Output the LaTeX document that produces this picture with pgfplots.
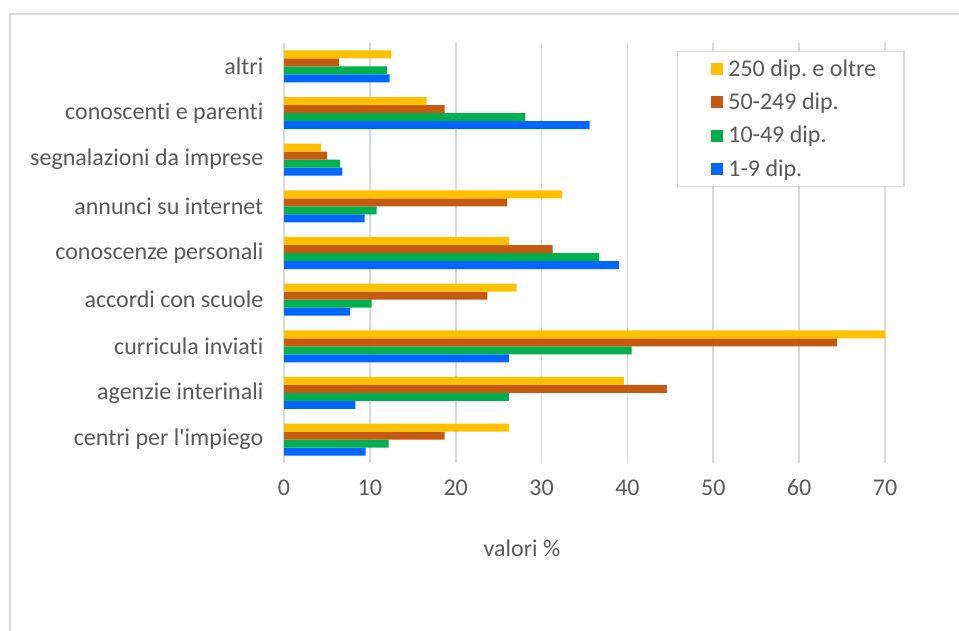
\documentclass[border=0pt]{standalone}
\usepackage{pgfplots}
\pgfplotsset{compat=1.18}
\usepackage{pgfplotstable}
\usepackage{fontspec}
\setmainfont{Carlito}[Ligatures={TeXOff,NoCommon}]
\frenchspacing
\definecolor{cY}{HTML}{FFC000}
\definecolor{cO}{HTML}{C55A11}
\definecolor{cG}{HTML}{00B050}
\definecolor{cB}{HTML}{0066FF}
\definecolor{txt}{HTML}{595959}
\definecolor{grd}{HTML}{D9D9D9}
\pgfplotstableread{
y  a    b    c    d
0  9.5  12.2 18.7 26.2
1  8.3  26.2 44.6 39.6
2  26.2 40.5 64.4 70.0
3  7.7  10.2 23.7 27.1
4  39.0 36.7 31.3 26.2
5  9.4  10.8 26.0 32.4
6  6.8  6.5  5.0  4.3
7  35.6 28.1 18.7 16.6
8  12.3 12.0 6.4  12.5
}\datatable
\begin{document}
\begin{tikzpicture}
\useasboundingbox (0,0) rectangle (719.25pt,473.25pt);
\draw[grd, line width=1pt] (7.5pt,0) -- (7.5pt,462.75pt) -- (719.25pt,462.75pt);
\begin{axis}[
  at={(213pt,126pt)}, anchor=south west,
  scale only axis, width=450.75pt, height=315pt,
  xbar, bar width=6pt,
  xmin=0, xmax=70, ymin=-0.5, ymax=8.5,
  xtick={0,10,...,70},
  ytick={0,...,8},
  yticklabels={centri per l'impiego, agenzie interinali, curricula inviati, accordi con scuole, conoscenze personali, annunci su internet, segnalazioni da imprese, conoscenti e parenti, altri},
  xmajorgrids, major grid style={grd, line width=1.2pt},
  axis x line*=bottom,
  x axis line style={draw=none},
  axis y line*=left,
  y axis line style={grd, line width=1.2pt, -},
  major tick length=0pt,
  tick label style={font=\fontsize{18}{21}\selectfont, text=txt},
  /pgf/number format/assume math mode=true,
  xticklabel style={yshift=-9pt},
  yticklabel style={xshift=-12pt},
  xlabel={valori \%},
  xlabel style={font=\fontsize{18}{21}\selectfont, text=txt, at={(axis description cs:0.396,-0.202)}, anchor=center},
  reverse legend,
  legend cell align=left,
  legend style={at={(axis description cs:0.654,0.981)}, anchor=north west,
    draw=grd, line width=1pt, font=\fontsize{18}{21}\selectfont, text=txt,
    inner xsep=19pt, inner ysep=4pt, row sep=7pt,
    nodes={inner sep=2pt}},
  legend image code/.code={\path (0pt,0pt) (17pt,0pt); \fill[#1] (6pt,-4.5pt) rectangle (15pt,4.5pt);},
]
\addplot[fill=cB, draw=none, bar shift=-9pt] table[x=a,y=y]{\datatable};
\addplot[fill=cG, draw=none, bar shift=-3pt] table[x=b,y=y]{\datatable};
\addplot[fill=cO, draw=none, bar shift=3pt] table[x=c,y=y]{\datatable};
\addplot[fill=cY, draw=none, bar shift=9pt] table[x=d,y=y]{\datatable};
\legend{1-9 dip., 10-49 dip., 50-249 dip., 250 dip. e oltre}
\end{axis}
\end{tikzpicture}
\end{document}
